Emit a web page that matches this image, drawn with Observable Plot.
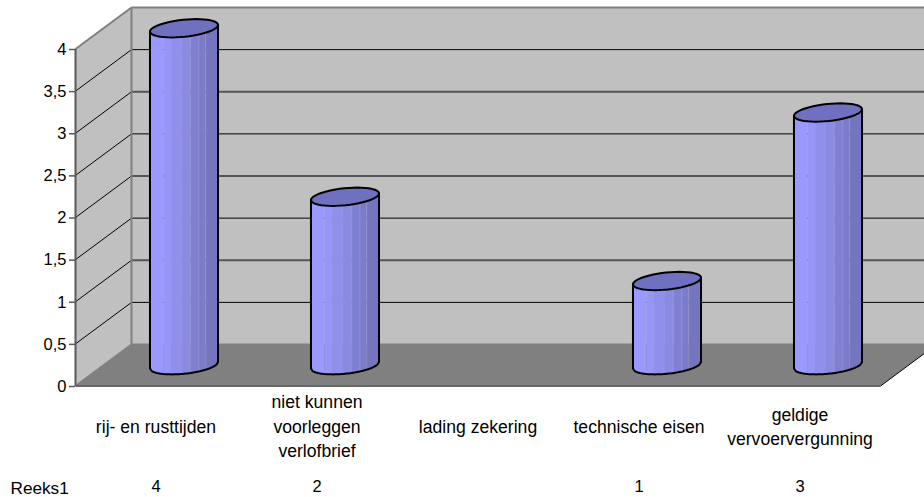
<!DOCTYPE html>
<html><head><meta charset="utf-8">
<script src="https://cdn.jsdelivr.net/npm/d3@7"></script>
<script src="https://cdn.jsdelivr.net/npm/@observablehq/plot@0.6"></script>
<style>html,body{margin:0;padding:0;background:#fff}svg{display:block}</style>
</head><body><div id="chart"></div>
<script>
const categories = ["rij- en rusttijden", "niet kunnen\nvoorleggen\nverlofbrief", "lading zekering", "technische eisen", "geldige\nvervoervergunning"];
const values = [4, 2, null, 1, 3];
const seriesName = "Reeks1";
const yTicks = [0, 0.5, 1, 1.5, 2, 2.5, 3, 3.5, 4];
const stripStops = [0, 0.2, 0.31, 0.47, 0.59, 0.72, 0.82, 1];
const stripColors = ["#9999FF", "#9696F8", "#9090EC", "#8A8AE0", "#8080D3", "#7B7BCA", "#7474BF"];

// oblique projection of the chart's depth axis, in data units
const depthX = 56 / 161, depthY = 41.5 / 84.25;
const nCat = categories.length, yMax = 4;
const radiusX = 0.197, radiusDepth = 0.22;
const tilt = Math.atan2(radiusDepth * depthX * 161, radiusX * 161);
const at = (c, v, d) => ({x: c + d * depthX, y: v + d * depthY});
const rim = (i, v, t) => ({
  x: i + 0.5 + radiusX * Math.cos(t) + (0.5 + radiusDepth * Math.sin(t)) * depthX,
  y: v + (0.5 + radiusDepth * Math.sin(t)) * depthY
});
const frontT = f => tilt + Math.PI + Math.acos(1 - 2 * f);
const arc = (i, v, f0, f1, n) => d3.range(n + 1).map(k => rim(i, v, frontT(f0 + (f1 - f0) * k / n)));

const walls = [
  {id: "left", fill: "#C0C0C0", pts: [at(0, 0, 0), at(0, yMax, 0), at(0, yMax, 1), at(0, 0, 1)]},
  {id: "back", fill: "#C0C0C0", pts: [at(0, 0, 1), at(0, yMax, 1), at(nCat, yMax, 1), at(nCat, 0, 1)]},
  {id: "floor", fill: "#808080", pts: [at(0, 0, 0), at(nCat, 0, 0), at(nCat, 0, 1), at(0, 0, 1)]}
].flatMap(w => w.pts.map(p => ({...p, id: w.id, fill: w.fill})));

const gridV = yTicks.filter(v => v > 0 && v < yMax);
const seg = (c0, v0, d0, c1, v1, d1) => {
  const a = at(c0, v0, d0), b = at(c1, v1, d1);
  return {x1: a.x, y1: a.y, x2: b.x, y2: b.y};
};
const sideGrid = gridV.map(v => seg(0, v, 0, 0, v, 1));
const backThin = gridV.filter(v => v % 1 !== 0).map(v => seg(0, v, 1, nCat, v, 1));
const backBold = gridV.filter(v => v % 1 === 0).map(v => seg(0, v, 1, nCat, v, 1));
const frameEdges = [seg(0, yMax, 0, 0, yMax, 1), seg(0, yMax, 1, nCat, yMax, 1), seg(0, 0, 1, 0, yMax, 1), seg(0, 0, 0, 0, 0, 1), seg(0, 0, 1, nCat, 0, 1)];

const cyl = values.map((v, i) => ({v, i})).filter(d => d.v != null);
const strips = cyl.flatMap(({v, i}) => stripColors.flatMap((fill, s) => {
  const lo = arc(i, 0, stripStops[s], stripStops[s + 1], 6);
  const hi = arc(i, v, stripStops[s], stripStops[s + 1], 6).reverse();
  return [...lo, ...hi].map(p => ({...p, id: `${i}-${s}`, fill}));
}));
const seams = cyl.flatMap(({v, i}) => stripStops.slice(4, 7).map(f => {
  const a = rim(i, 0, frontT(f)), b = rim(i, v, frontT(f));
  return {x1: a.x, y1: a.y, x2: b.x, y2: b.y};
}));
const bodies = cyl.flatMap(({v, i}) => {
  const base = arc(i, 0, 0, 1, 40);
  return [rim(i, v, frontT(0)), ...base, rim(i, v, frontT(1))].map(p => ({...p, id: i}));
});
const caps = cyl.flatMap(({v, i}) => d3.range(48).map(k => ({...rim(i, v, k / 48 * 2 * Math.PI), id: i})));

const font = "'Liberation Sans', Arial, sans-serif";
const closed = {curve: "linear-closed"};
const plot = Plot.plot({
  width: 924, height: 497,
  marginLeft: 75, marginRight: 44, marginTop: 49, marginBottom: 112,
  style: {fontFamily: font, background: "#fff"},
  x: {type: "linear", domain: [0, nCat], range: [75, 880], axis: null},
  y: {type: "linear", domain: [0, yMax], range: [385.5, 48.5], axis: null},
  marks: [
    Plot.line(walls, {x: "x", y: "y", z: "id", fill: "fill", stroke: "none", ...closed}),
    Plot.link(sideGrid, {x1: "x1", y1: "y1", x2: "x2", y2: "y2", stroke: "#000", strokeWidth: 1}),
    Plot.link(backThin, {x1: "x1", y1: "y1", x2: "x2", y2: "y2", stroke: "#000", strokeWidth: 1}),
    Plot.link(backBold, {x1: "x1", y1: "y1", x2: "x2", y2: "y2", stroke: "#555", strokeWidth: 2}),
    Plot.link(frameEdges, {x1: "x1", y1: "y1", x2: "x2", y2: "y2", stroke: "#808080", strokeWidth: 2}),
    Plot.link([seg(nCat, 0, 0, nCat, 0, 1)], {x1: "x1", y1: "y1", x2: "x2", y2: "y2", stroke: "#000", strokeWidth: 1}),
    Plot.link([seg(0, 0, 0, nCat, 0, 0)], {x1: "x1", y1: "y1", x2: "x2", y2: "y2", stroke: "#666", strokeWidth: 2}),
    Plot.link([seg(0, 0, 0, 0, yMax, 0)], {x1: "x1", y1: "y1", x2: "x2", y2: "y2", stroke: "#595959", strokeWidth: 2}),
    Plot.axisY({ticks: yTicks, tickFormat: d => String(d).replace(".", ","), tickSize: 6, tickPadding: 3,
      fontSize: 16.5, dy: 0.5, stroke: "#595959", strokeWidth: 1.5, color: "#000"}),
    Plot.line(strips, {x: "x", y: "y", z: "id", fill: "fill", stroke: "none", ...closed}),
    Plot.link(seams, {x1: "x1", y1: "y1", x2: "x2", y2: "y2", stroke: "#fff", strokeOpacity: 0.14, strokeWidth: 1}),
    Plot.line(bodies, {x: "x", y: "y", z: "id", stroke: "#000", strokeWidth: 2, strokeLinejoin: "round"}),
    Plot.line(caps, {x: "x", y: "y", z: "id", fill: "#7070C0", stroke: "#000", strokeWidth: 2, strokeLinejoin: "round", ...closed}),
    Plot.text(categories, {x: (d, i) => i + 0.5, y: () => 0, text: d => d, dy: 39, fontSize: 17.6, lineHeight: 1.39, lineAnchor: "middle", textAnchor: "middle", fill: "#000"}),
    Plot.text(values.map((v, i) => ({v, i})).filter(d => d.v != null), {x: d => d.i + 0.5, frameAnchor: "bottom", dy: 106, text: d => String(d.v), fontSize: 16.5, textAnchor: "middle", fill: "#000"}),
    Plot.text([seriesName], {frameAnchor: "bottom-left", dx: -65, dy: 108, text: d => d, fontSize: 17.2, textAnchor: "start", fill: "#000"})
  ]
});
document.getElementById("chart").append(plot);
</script></body></html>
